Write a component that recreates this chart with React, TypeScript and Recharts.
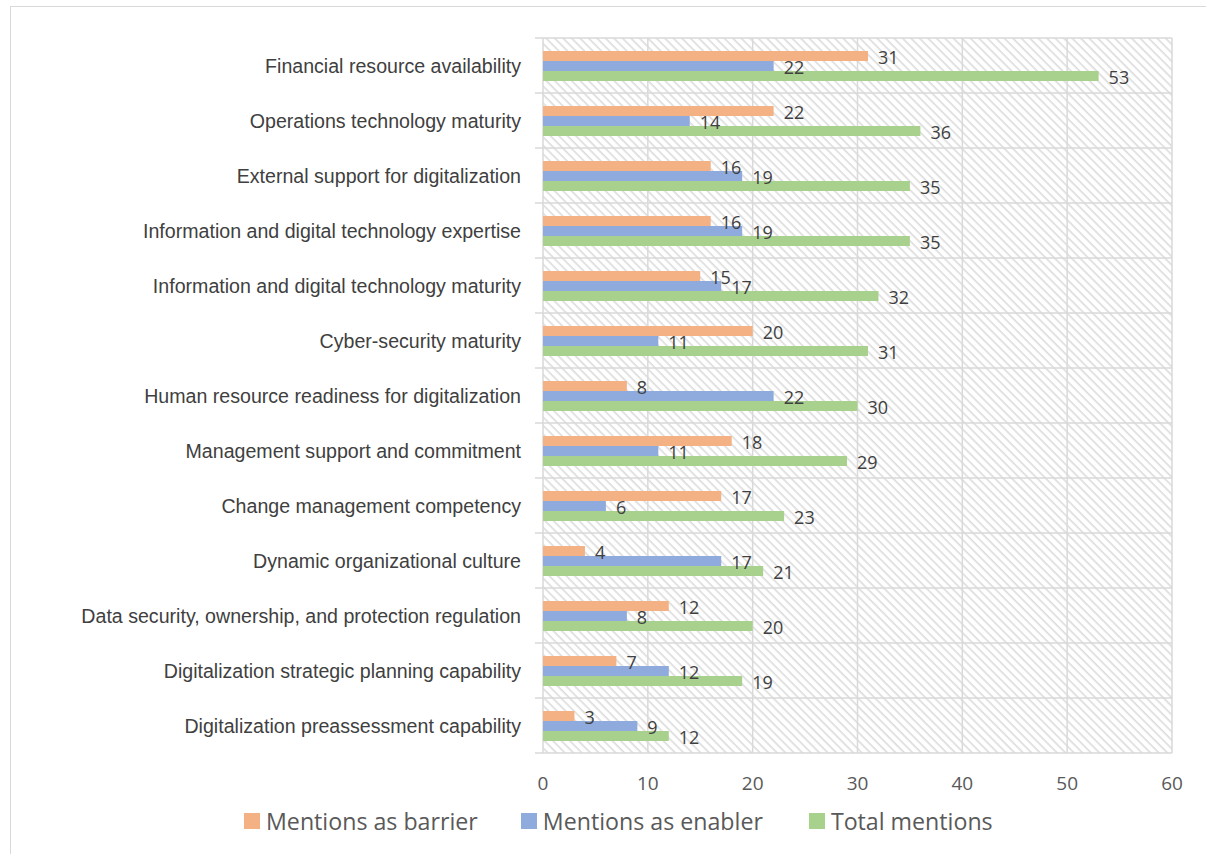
import React from "react";
import { BarChart, Bar, XAxis, YAxis, CartesianGrid, LabelList } from "recharts";

const categories = [
  "Financial resource availability",
  "Operations technology maturity",
  "External support for digitalization",
  "Information and digital technology expertise",
  "Information and digital technology maturity",
  "Cyber-security maturity",
  "Human resource readiness for digitalization",
  "Management support and commitment",
  "Change management competency",
  "Dynamic organizational culture",
  "Data security, ownership, and protection regulation",
  "Digitalization strategic planning capability",
  "Digitalization preassessment capability",
];
const barrier = [31, 22, 16, 16, 15, 20, 8, 18, 17, 4, 12, 7, 3];
const enabler = [22, 14, 19, 19, 17, 11, 22, 11, 6, 17, 8, 12, 9];
const total = [53, 36, 35, 35, 32, 31, 30, 29, 23, 21, 20, 19, 12];
const xTicks = [0, 10, 20, 30, 40, 50, 60];

const series = [
  { key: "barrier", name: "Mentions as barrier", color: "#F4B183" },
  { key: "enabler", name: "Mentions as enabler", color: "#8FAADC" },
  { key: "total", name: "Total mentions", color: "#A9D18E" },
];

const data = categories.map((name, i) => ({
  name,
  barrier: barrier[i],
  enabler: enabler[i],
  total: total[i],
}));

const W = 1206;
const H = 854;
const xAxisHeight = 40;
const margin = { top: 38, right: 34, bottom: 61, left: 0 };
const band = (H - margin.top - margin.bottom - xAxisHeight) / categories.length;
const gridColor = "#d9d9d9";
const numFont = "'Open Sans', sans-serif";
const legendGaps = [43, 46, 0];

const CategoryTick = (props: any) => {
  const { x, y, payload } = props;
  return (
    <g>
      <line x1={x + 14} x2={x + 22} y1={y + band / 2} y2={y + band / 2} stroke={gridColor} strokeWidth={1.5} />
      {payload.index === 0 && (
        <line x1={x + 14} x2={x + 22} y1={y - band / 2} y2={y - band / 2} stroke={gridColor} strokeWidth={1.5} />
      )}
      <text x={x} y={y} dy={7} textAnchor="end" fill="#404040" fontSize={19.6} fontFamily="'Liberation Sans', Arial, sans-serif">
        {payload.value}
      </text>
    </g>
  );
};

const LegendBox = () => (
  <div style={{ position: "absolute", left: 244, top: 805, display: "flex", alignItems: "center" }}>
    {series.map((s, i) => (
      <div key={s.key} style={{ display: "flex", alignItems: "center", marginRight: legendGaps[i] }}>
        <span style={{ display: "inline-block", width: 16, height: 16, background: s.color, marginRight: 6 }} />
        <span style={{ fontSize: 23.2, color: "#595959", fontFamily: numFont }}>{s.name}</span>
      </div>
    ))}
  </div>
);

export default function App() {
  return (
    <div style={{ position: "absolute", left: 0, top: 0, width: W, height: H, background: "#fff", overflow: "hidden" }}>
      <div style={{ position: "absolute", left: 10, top: 6, width: 1210, height: 860, border: `1px solid ${gridColor}` }} />
      <BarChart
        width={W}
        height={H}
        data={data}
        layout="vertical"
        margin={margin}
        barSize={10}
        barGap={0}
      >
        <defs>
          <pattern id="hatch" width="6" height="6" patternUnits="userSpaceOnUse" patternTransform="rotate(45)">
            <rect x="0" y="0" width="6" height="6" fill="#ffffff" />
            <rect x="0" y="0" width="6" height="1.6" fill="#dcdcdc" />
          </pattern>
        </defs>
        <CartesianGrid
          stroke={gridColor}
          strokeWidth={1.5}
          fill="url(#hatch)"
          fillOpacity={1}
          horizontalCoordinatesGenerator={({ offset }: any) =>
            categories.map((_, i) => offset.top + i * band).concat([offset.top + offset.height])
          }
        />
        <XAxis
          type="number"
          domain={[0, 60]}
          ticks={xTicks}
          axisLine={false}
          tickLine={false}
          tickMargin={18}
          height={xAxisHeight}
          tick={{ fill: "#595959", fontSize: 19, fontFamily: numFont }}
        />
        <YAxis
          type="category"
          dataKey="name"
          width={543}
          axisLine={false}
          tickLine={false}
          tickSize={0}
          tickMargin={22}
          interval={0}
          tick={<CategoryTick />}
        />
        {series.map((s) => (
          <Bar key={s.key} dataKey={s.key} name={s.name} fill={s.color} isAnimationActive={false}>
            <LabelList
              dataKey={s.key}
              position="right"
              offset={10}
              fill="#404040"
              fontSize={18}
              fontFamily={numFont}
              dy={2}
            />
          </Bar>
        ))}
      </BarChart>
      <LegendBox />
    </div>
  );
}
